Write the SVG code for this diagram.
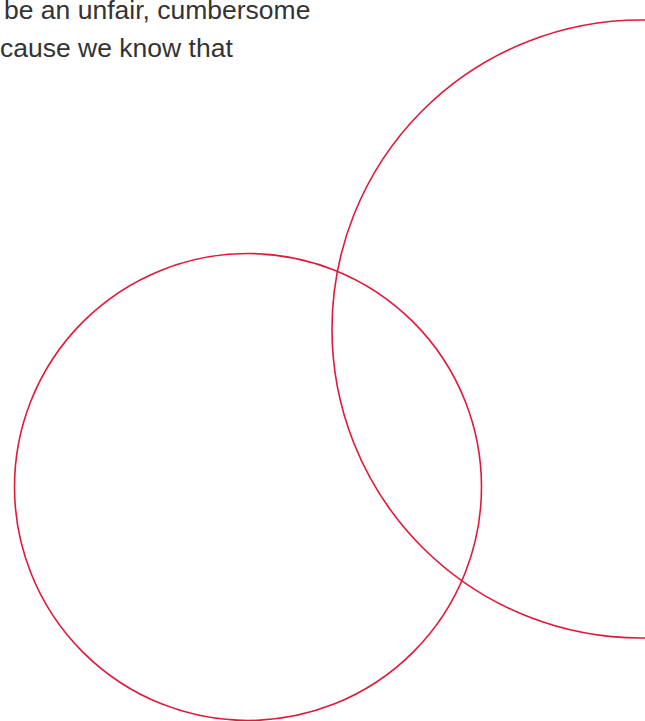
<svg xmlns="http://www.w3.org/2000/svg" width="645" height="721" viewBox="0 0 645 721">
<style>
.t{font-family:"Liberation Sans",Arial,sans-serif;font-size:26.5px;fill:#333333}
.c{fill:none;stroke:#e3173a;stroke-width:1.6}
</style>
<rect width="645" height="721" fill="#ffffff"/>
<text class="t" x="4" y="19">be an unfair, cumbersome</text>
<text class="t" x="0" y="57">cause we know that</text>
<g id="circle-large"><circle class="c" cx="641" cy="329" r="309"/></g>
<g id="circle-small"><circle class="c" cx="248" cy="487" r="233.5"/></g>
</svg>
